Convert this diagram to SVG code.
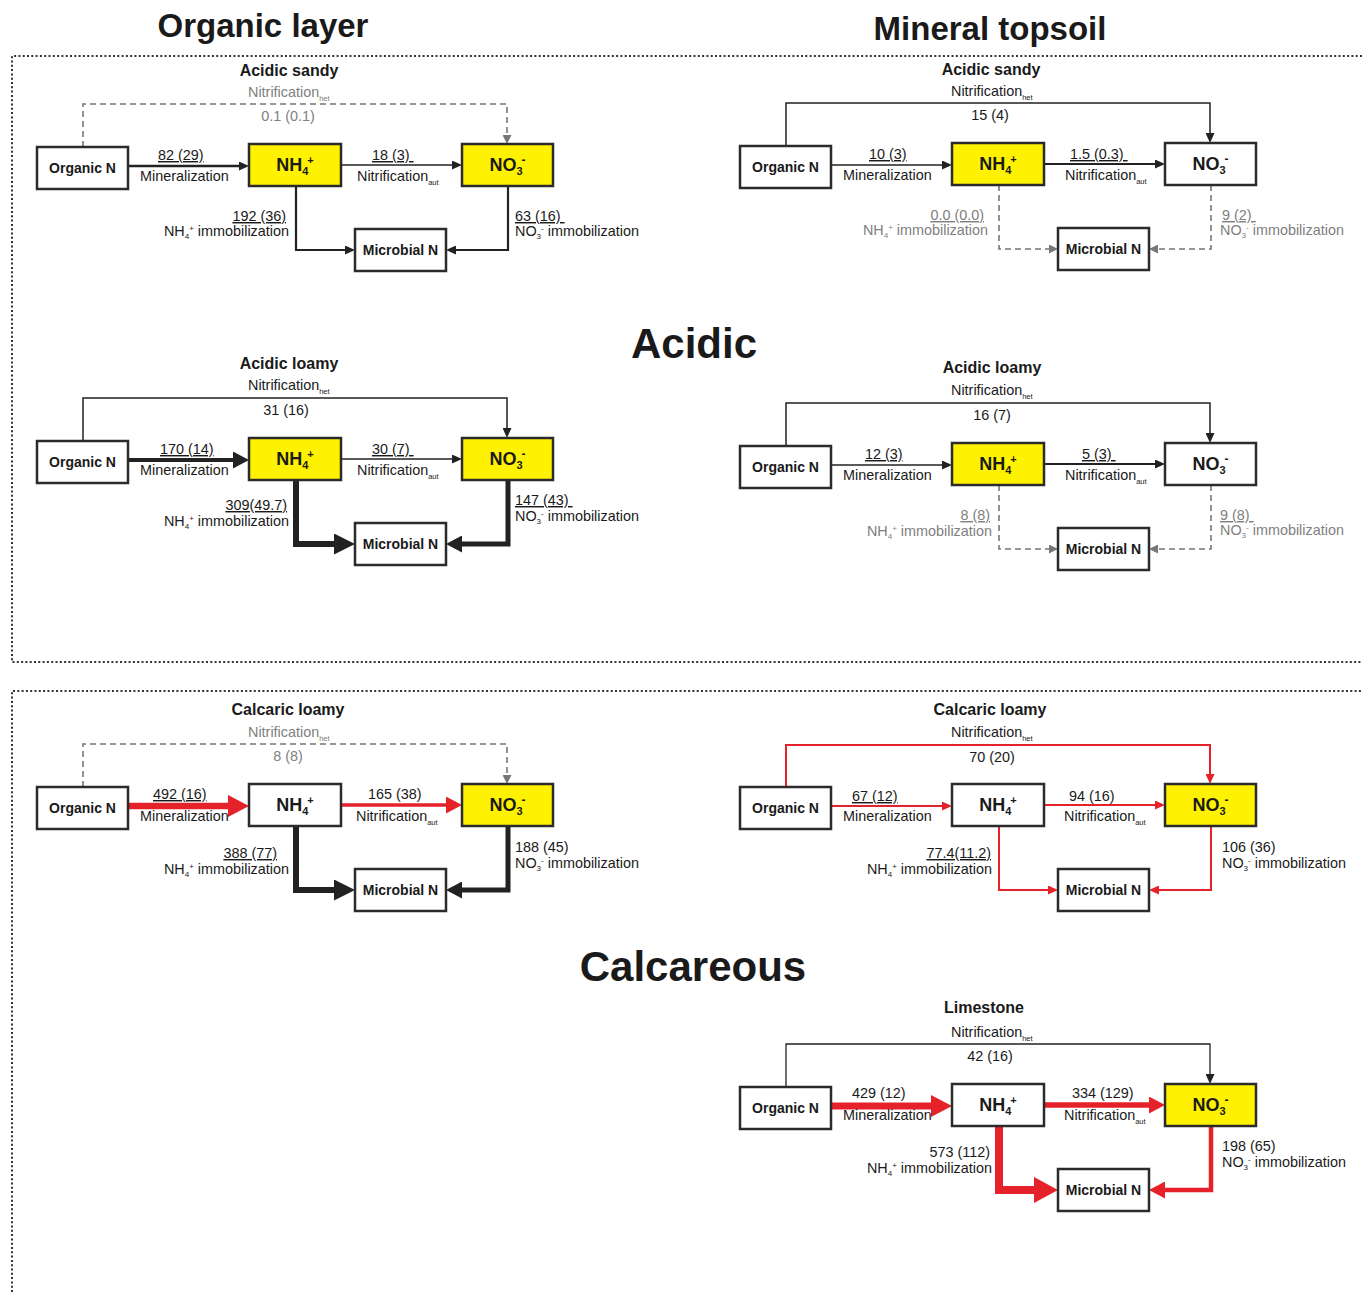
<svg xmlns="http://www.w3.org/2000/svg" width="1362" height="1292" viewBox="0 0 1362 1292">
<style>
text{font-family:"Liberation Sans",Arial,sans-serif;fill:#1a1a1a}
.big{font-size:33px;font-weight:bold}
.huge{font-size:42px;font-weight:bold}
.ttl{font-size:16px;font-weight:bold}
.lbl{font-size:14px;font-weight:bold}
.ion{font-size:18px;font-weight:bold}
.sm{font-size:14.4px}
.gt{fill:#808080}
.u{text-decoration:underline}
.box{fill:#fff;stroke:#2b2b2b;stroke-width:2.5}
.yel{fill:#FFF200}
.dot{fill:none;stroke:#333;stroke-width:2;stroke-dasharray:2 2.3}
.k{fill:none;stroke:#222;stroke-linejoin:miter}
.r{fill:none;stroke:#E5222A;stroke-linejoin:miter}
.g{fill:none;stroke:#777;stroke-width:1.6;stroke-dasharray:6 4}
</style>
<defs>
<marker id="aks" viewBox="0 -4.5 10 9" markerWidth="10" markerHeight="9" refX="0" refY="0" orient="auto" markerUnits="userSpaceOnUse"><path d="M0,-4.5L10,0L0,4.5Z" fill="#222"/></marker>
<marker id="ag" viewBox="0 -4.5 9 9" markerWidth="9" markerHeight="9" refX="0" refY="0" orient="auto" markerUnits="userSpaceOnUse"><path d="M0,-4.5L9,0L0,4.5Z" fill="#777"/></marker>
<marker id="akm" viewBox="0 -8.5 16 17" markerWidth="16" markerHeight="17" refX="0" refY="0" orient="auto" markerUnits="userSpaceOnUse"><path d="M0,-8.5L16,0L0,8.5Z" fill="#222"/></marker>
<marker id="akl" viewBox="0 -10.5 21 21" markerWidth="21" markerHeight="21" refX="0" refY="0" orient="auto" markerUnits="userSpaceOnUse"><path d="M0,-10.5L21,0L0,10.5Z" fill="#222"/></marker>
<marker id="ars" viewBox="0 -4.5 10 9" markerWidth="10" markerHeight="9" refX="0" refY="0" orient="auto" markerUnits="userSpaceOnUse"><path d="M0,-4.5L10,0L0,4.5Z" fill="#E5222A"/></marker>
<marker id="arm" viewBox="0 -8.5 16 17" markerWidth="16" markerHeight="17" refX="0" refY="0" orient="auto" markerUnits="userSpaceOnUse"><path d="M0,-8.5L16,0L0,8.5Z" fill="#E5222A"/></marker>
<marker id="arl" viewBox="0 -11 21 22" markerWidth="21" markerHeight="22" refX="0" refY="0" orient="auto" markerUnits="userSpaceOnUse"><path d="M0,-11L21,0L0,11Z" fill="#E5222A"/></marker>
<marker id="arxl" viewBox="0 -13 24 26" markerWidth="24" markerHeight="26" refX="0" refY="0" orient="auto" markerUnits="userSpaceOnUse"><path d="M0,-13L24,0L0,13Z" fill="#E5222A"/></marker>
</defs>
<rect width="1362" height="1292" fill="#fff"/>

<g id="headers">
<text class="big" x="263" y="37" text-anchor="middle">Organic layer</text>
<text class="big" x="990" y="40" text-anchor="middle">Mineral topsoil</text>
<text class="huge" x="694" y="358" text-anchor="middle">Acidic</text>
<text class="huge" x="693" y="981" text-anchor="middle">Calcareous</text>
</g>
<g id="frames">
<path class="dot" d="M1362,56H12V662H1362"/>
<path class="dot" d="M12,1292V691H1362"/>
</g>

<!-- Panel 1: Organic layer, Acidic sandy -->
<g id="p1" transform="translate(0,0)">
<text class="ttl" x="289" y="76" text-anchor="middle">Acidic sandy</text>
<g id="p1-connectors">
<path class="g" d="M83,147V104H507V135" marker-end="url(#ag)"/>
<path class="k" stroke-width="2.5" d="M128,166H239" marker-end="url(#aks)"/>
<path class="k" stroke-width="1.5" d="M341,165H452" marker-end="url(#aks)"/>
<path class="k" stroke-width="2.2" d="M296,186V250H345" marker-end="url(#aks)"/>
<path class="k" stroke-width="2.2" d="M508,186V250H456" marker-end="url(#aks)"/>
</g>
<g id="p1-labels">
<text class="sm gt" x="248" y="97">Nitrification<tspan font-size="7.5" dy="4">het</tspan></text>
<text class="sm gt" x="288" y="121" text-anchor="middle">0.1 (0.1)</text>
<text class="sm u" x="158" y="160">82 (29)</text>
<text class="sm" x="140" y="181">Mineralization</text>
<text class="sm u" x="372" y="160">18 (3)&#160;</text>
<text class="sm" x="357" y="181">Nitrification<tspan font-size="7.5" dy="4">aut</tspan></text>
<text class="sm u" x="286" y="221" text-anchor="end">192 (36)</text>
<text class="sm" x="289" y="236" text-anchor="end">NH<tspan font-size="8" dy="3">4</tspan><tspan font-size="8" dy="-8">+</tspan><tspan dy="5"> immobilization</tspan></text>
<text class="sm u" x="515" y="221">63 (16)&#160;</text>
<text class="sm" x="515" y="236">NO<tspan font-size="8" dy="3">3</tspan><tspan font-size="8" dy="-8">-</tspan><tspan dy="5"> immobilization</tspan></text>
</g>
<g id="p1-org"><rect class="box" x="37" y="147" width="91" height="42"/><text class="lbl" x="82.5" y="173" text-anchor="middle">Organic N</text></g>
<g id="p1-nh4"><rect class="box yel" x="249" y="144" width="92" height="42"/><text class="ion" x="295" y="171" text-anchor="middle">NH<tspan font-size="11" dy="4">4</tspan><tspan font-size="11" dy="-11" dx="-1">+</tspan></text></g>
<g id="p1-no3"><rect class="box yel" x="462" y="144" width="91" height="42"/><text class="ion" x="507.5" y="171" text-anchor="middle">NO<tspan font-size="11" dy="4">3</tspan><tspan font-size="12" dy="-11" dx="-1">-</tspan></text></g>
<g id="p1-mic"><rect class="box" x="355" y="229" width="91" height="42"/><text class="lbl" x="400.5" y="255" text-anchor="middle">Microbial N</text></g>
</g>

<!-- Panel 2: Mineral topsoil, Acidic sandy -->
<g id="p2" transform="translate(703,-1)">
<text class="ttl" x="288" y="76" text-anchor="middle">Acidic sandy</text>
<g id="p2-connectors">
<path class="k" stroke-width="1.5" d="M83,147V104H507V134" marker-end="url(#aks)"/>
<path class="k" stroke-width="1.5" d="M128,166H239" marker-end="url(#aks)"/>
<path class="k" stroke-width="1.8" d="M341,165H452" marker-end="url(#aks)"/>
<path class="g" d="M296,186V250H346" marker-end="url(#ag)"/>
<path class="g" d="M508,186V250H455" marker-end="url(#ag)"/>
</g>
<g id="p2-labels">
<text class="sm" x="248" y="97">Nitrification<tspan font-size="7.5" dy="4">het</tspan></text>
<text class="sm" x="287" y="121" text-anchor="middle">15 (4)</text>
<text class="sm u" x="166" y="160">10 (3)</text>
<text class="sm" x="140" y="181">Mineralization</text>
<text class="sm u" x="367" y="160">1.5 (0.3)&#160;</text>
<text class="sm" x="362" y="181">Nitrification<tspan font-size="7.5" dy="4">aut</tspan></text>
<text class="sm u gt" x="281" y="221" text-anchor="end">0.0 (0.0)</text>
<text class="sm gt" x="285" y="236" text-anchor="end">NH<tspan font-size="8" dy="3">4</tspan><tspan font-size="8" dy="-8">+</tspan><tspan dy="5"> immobilization</tspan></text>
<text class="sm u gt" x="519" y="221">9 (2)&#160;</text>
<text class="sm gt" x="517" y="236">NO<tspan font-size="8" dy="3">3</tspan><tspan font-size="8" dy="-8">-</tspan><tspan dy="5"> immobilization</tspan></text>
</g>
<g id="p2-org"><rect class="box" x="37" y="147" width="91" height="42"/><text class="lbl" x="82.5" y="173" text-anchor="middle">Organic N</text></g>
<g id="p2-nh4"><rect class="box yel" x="249" y="144" width="92" height="42"/><text class="ion" x="295" y="171" text-anchor="middle">NH<tspan font-size="11" dy="4">4</tspan><tspan font-size="11" dy="-11" dx="-1">+</tspan></text></g>
<g id="p2-no3"><rect class="box" x="462" y="144" width="91" height="42"/><text class="ion" x="507.5" y="171" text-anchor="middle">NO<tspan font-size="11" dy="4">3</tspan><tspan font-size="12" dy="-11" dx="-1">-</tspan></text></g>
<g id="p2-mic"><rect class="box" x="355" y="229" width="91" height="42"/><text class="lbl" x="400.5" y="255" text-anchor="middle">Microbial N</text></g>
</g>

<!-- Panel 3: Organic layer, Acidic loamy -->
<g id="p3" transform="translate(0,294)">
<text class="ttl" x="289" y="75" text-anchor="middle">Acidic loamy</text>
<g id="p3-connectors">
<path class="k" stroke-width="1.5" d="M83,147V104H507V134" marker-end="url(#aks)"/>
<path class="k" stroke-width="4" d="M128,166H233" marker-end="url(#akm)"/>
<path class="k" stroke-width="1.3" d="M341,165H452" marker-end="url(#aks)"/>
<path class="k" stroke-width="6" d="M296,186V250H334" marker-end="url(#akl)"/>
<path class="k" stroke-width="5" d="M508,186V250H462" marker-end="url(#akm)"/>
</g>
<g id="p3-labels">
<text class="sm" x="248" y="96">Nitrification<tspan font-size="7.5" dy="4">het</tspan></text>
<text class="sm" x="286" y="121" text-anchor="middle">31 (16)</text>
<text class="sm u" x="160" y="160">170 (14)</text>
<text class="sm" x="140" y="181">Mineralization</text>
<text class="sm u" x="372" y="160">30 (7)&#160;</text>
<text class="sm" x="357" y="181">Nitrification<tspan font-size="7.5" dy="4">aut</tspan></text>
<text class="sm u" x="287" y="216" text-anchor="end">309(49.7)</text>
<text class="sm" x="289" y="232" text-anchor="end">NH<tspan font-size="8" dy="3">4</tspan><tspan font-size="8" dy="-8">+</tspan><tspan dy="5"> immobilization</tspan></text>
<text class="sm u" x="515" y="211">147 (43)&#160;</text>
<text class="sm" x="515" y="227">NO<tspan font-size="8" dy="3">3</tspan><tspan font-size="8" dy="-8">-</tspan><tspan dy="5"> immobilization</tspan></text>
</g>
<g id="p3-org"><rect class="box" x="37" y="147" width="91" height="42"/><text class="lbl" x="82.5" y="173" text-anchor="middle">Organic N</text></g>
<g id="p3-nh4"><rect class="box yel" x="249" y="144" width="92" height="42"/><text class="ion" x="295" y="171" text-anchor="middle">NH<tspan font-size="11" dy="4">4</tspan><tspan font-size="11" dy="-11" dx="-1">+</tspan></text></g>
<g id="p3-no3"><rect class="box yel" x="462" y="144" width="91" height="42"/><text class="ion" x="507.5" y="171" text-anchor="middle">NO<tspan font-size="11" dy="4">3</tspan><tspan font-size="12" dy="-11" dx="-1">-</tspan></text></g>
<g id="p3-mic"><rect class="box" x="355" y="229" width="91" height="42"/><text class="lbl" x="400.5" y="255" text-anchor="middle">Microbial N</text></g>
</g>

<!-- Panel 4: Mineral topsoil, Acidic loamy -->
<g id="p4" transform="translate(703,299)">
<text class="ttl" x="289" y="74" text-anchor="middle">Acidic loamy</text>
<g id="p4-connectors">
<path class="k" stroke-width="1.5" d="M83,147V104H507V134" marker-end="url(#aks)"/>
<path class="k" stroke-width="1.3" d="M128,166H239" marker-end="url(#aks)"/>
<path class="k" stroke-width="2" d="M341,165H452" marker-end="url(#aks)"/>
<path class="g" d="M296,186V250H346" marker-end="url(#ag)"/>
<path class="g" d="M508,186V250H455" marker-end="url(#ag)"/>
</g>
<g id="p4-labels">
<text class="sm" x="248" y="96">Nitrification<tspan font-size="7.5" dy="4">het</tspan></text>
<text class="sm" x="289" y="121" text-anchor="middle">16 (7)</text>
<text class="sm u" x="162" y="160">12 (3)</text>
<text class="sm" x="140" y="181">Mineralization</text>
<text class="sm u" x="379" y="160">5 (3)&#160;</text>
<text class="sm" x="362" y="181">Nitrification<tspan font-size="7.5" dy="4">aut</tspan></text>
<text class="sm u gt" x="287" y="221" text-anchor="end">8 (8)</text>
<text class="sm gt" x="289" y="237" text-anchor="end">NH<tspan font-size="8" dy="3">4</tspan><tspan font-size="8" dy="-8">+</tspan><tspan dy="5"> immobilization</tspan></text>
<text class="sm u gt" x="517" y="221">9 (8)&#160;</text>
<text class="sm gt" x="517" y="236">NO<tspan font-size="8" dy="3">3</tspan><tspan font-size="8" dy="-8">-</tspan><tspan dy="5"> immobilization</tspan></text>
</g>
<g id="p4-org"><rect class="box" x="37" y="147" width="91" height="42"/><text class="lbl" x="82.5" y="173" text-anchor="middle">Organic N</text></g>
<g id="p4-nh4"><rect class="box yel" x="249" y="144" width="92" height="42"/><text class="ion" x="295" y="171" text-anchor="middle">NH<tspan font-size="11" dy="4">4</tspan><tspan font-size="11" dy="-11" dx="-1">+</tspan></text></g>
<g id="p4-no3"><rect class="box" x="462" y="144" width="91" height="42"/><text class="ion" x="507.5" y="171" text-anchor="middle">NO<tspan font-size="11" dy="4">3</tspan><tspan font-size="12" dy="-11" dx="-1">-</tspan></text></g>
<g id="p4-mic"><rect class="box" x="355" y="229" width="91" height="42"/><text class="lbl" x="400.5" y="255" text-anchor="middle">Microbial N</text></g>
</g>

<!-- Panel 5: Organic layer, Calcaric loamy -->
<g id="p5" transform="translate(0,640)">
<text class="ttl" x="288" y="75" text-anchor="middle">Calcaric loamy</text>
<g id="p5-connectors">
<path class="g" d="M83,147V104H507V135" marker-end="url(#ag)"/>
<path class="r" stroke-width="6.5" d="M128,166H228" marker-end="url(#arl)"/>
<path class="r" stroke-width="3.5" d="M341,165H446" marker-end="url(#arm)"/>
<path class="k" stroke-width="6" d="M296,186V250H334" marker-end="url(#akl)"/>
<path class="k" stroke-width="5" d="M508,186V250H462" marker-end="url(#akm)"/>
</g>
<g id="p5-labels">
<text class="sm gt" x="248" y="97">Nitrification<tspan font-size="7.5" dy="4">het</tspan></text>
<text class="sm gt" x="288" y="121" text-anchor="middle">8 (8)</text>
<text class="sm u" x="153" y="159">492 (16)</text>
<text class="sm" x="140" y="181">Mineralization</text>
<text class="sm" x="368" y="159">165 (38)</text>
<text class="sm" x="356" y="181">Nitrification<tspan font-size="7.5" dy="4">aut</tspan></text>
<text class="sm u" x="277" y="218" text-anchor="end">388 (77)</text>
<text class="sm" x="289" y="234" text-anchor="end">NH<tspan font-size="8" dy="3">4</tspan><tspan font-size="8" dy="-8">+</tspan><tspan dy="5"> immobilization</tspan></text>
<text class="sm" x="515" y="212">188 (45)</text>
<text class="sm" x="515" y="228">NO<tspan font-size="8" dy="3">3</tspan><tspan font-size="8" dy="-8">-</tspan><tspan dy="5"> immobilization</tspan></text>
</g>
<g id="p5-org"><rect class="box" x="37" y="147" width="91" height="42"/><text class="lbl" x="82.5" y="173" text-anchor="middle">Organic N</text></g>
<g id="p5-nh4"><rect class="box" x="249" y="144" width="92" height="42"/><text class="ion" x="295" y="171" text-anchor="middle">NH<tspan font-size="11" dy="4">4</tspan><tspan font-size="11" dy="-11" dx="-1">+</tspan></text></g>
<g id="p5-no3"><rect class="box yel" x="462" y="144" width="91" height="42"/><text class="ion" x="507.5" y="171" text-anchor="middle">NO<tspan font-size="11" dy="4">3</tspan><tspan font-size="12" dy="-11" dx="-1">-</tspan></text></g>
<g id="p5-mic"><rect class="box" x="355" y="229" width="91" height="42"/><text class="lbl" x="400.5" y="255" text-anchor="middle">Microbial N</text></g>
</g>

<!-- Panel 6: Mineral topsoil, Calcaric loamy -->
<g id="p6" transform="translate(703,640)">
<text class="ttl" x="287" y="75" text-anchor="middle">Calcaric loamy</text>
<g id="p6-connectors">
<path class="r" stroke-width="2" d="M83,147V105H507V134" marker-end="url(#ars)"/>
<path class="r" stroke-width="2" d="M128,166H239" marker-end="url(#ars)"/>
<path class="r" stroke-width="2" d="M341,165H452" marker-end="url(#ars)"/>
<path class="r" stroke-width="2" d="M296,186V250H345" marker-end="url(#ars)"/>
<path class="r" stroke-width="2" d="M508,186V250H456" marker-end="url(#ars)"/>
</g>
<g id="p6-labels">
<text class="sm" x="248" y="97">Nitrification<tspan font-size="7.5" dy="4">het</tspan></text>
<text class="sm" x="289" y="122" text-anchor="middle">70 (20)</text>
<text class="sm u" x="149" y="161">67 (12)</text>
<text class="sm" x="140" y="181">Mineralization</text>
<text class="sm" x="366" y="161">94 (16)</text>
<text class="sm" x="361" y="181">Nitrification<tspan font-size="7.5" dy="4">aut</tspan></text>
<text class="sm u" x="288" y="218" text-anchor="end">77.4(11.2)</text>
<text class="sm" x="289" y="234" text-anchor="end">NH<tspan font-size="8" dy="3">4</tspan><tspan font-size="8" dy="-8">+</tspan><tspan dy="5"> immobilization</tspan></text>
<text class="sm" x="519" y="212">106 (36)</text>
<text class="sm" x="519" y="228">NO<tspan font-size="8" dy="3">3</tspan><tspan font-size="8" dy="-8">-</tspan><tspan dy="5"> immobilization</tspan></text>
</g>
<g id="p6-org"><rect class="box" x="37" y="147" width="91" height="42"/><text class="lbl" x="82.5" y="173" text-anchor="middle">Organic N</text></g>
<g id="p6-nh4"><rect class="box" x="249" y="144" width="92" height="42"/><text class="ion" x="295" y="171" text-anchor="middle">NH<tspan font-size="11" dy="4">4</tspan><tspan font-size="11" dy="-11" dx="-1">+</tspan></text></g>
<g id="p6-no3"><rect class="box yel" x="462" y="144" width="91" height="42"/><text class="ion" x="507.5" y="171" text-anchor="middle">NO<tspan font-size="11" dy="4">3</tspan><tspan font-size="12" dy="-11" dx="-1">-</tspan></text></g>
<g id="p6-mic"><rect class="box" x="355" y="229" width="91" height="42"/><text class="lbl" x="400.5" y="255" text-anchor="middle">Microbial N</text></g>
</g>

<!-- Panel 7: Mineral topsoil, Limestone -->
<g id="p7" transform="translate(703,940)">
<text class="ttl" x="281" y="73" text-anchor="middle">Limestone</text>
<g id="p7-connectors">
<path class="k" stroke-width="1.3" d="M83,147V104H507V134" marker-end="url(#aks)"/>
<path class="r" stroke-width="7" d="M128,166H228" marker-end="url(#arl)"/>
<path class="r" stroke-width="5.5" d="M341,165H446" marker-end="url(#arm)"/>
<path class="r" stroke-width="8" d="M296,186V250H331" marker-end="url(#arxl)"/>
<path class="r" stroke-width="4.5" d="M508,186V250H462" marker-end="url(#arm)"/>
</g>
<g id="p7-labels">
<text class="sm" x="248" y="97">Nitrification<tspan font-size="7.5" dy="4">het</tspan></text>
<text class="sm" x="287" y="121" text-anchor="middle">42 (16)</text>
<text class="sm" x="149" y="158">429 (12)</text>
<text class="sm" x="140" y="180">Mineralization</text>
<text class="sm" x="369" y="158">334 (129)</text>
<text class="sm" x="361" y="180">Nitrification<tspan font-size="7.5" dy="4">aut</tspan></text>
<text class="sm" x="287" y="217" text-anchor="end">573 (112)</text>
<text class="sm" x="289" y="233" text-anchor="end">NH<tspan font-size="8" dy="3">4</tspan><tspan font-size="8" dy="-8">+</tspan><tspan dy="5"> immobilization</tspan></text>
<text class="sm" x="519" y="211">198 (65)</text>
<text class="sm" x="519" y="227">NO<tspan font-size="8" dy="3">3</tspan><tspan font-size="8" dy="-8">-</tspan><tspan dy="5"> immobilization</tspan></text>
</g>
<g id="p7-org"><rect class="box" x="37" y="147" width="91" height="42"/><text class="lbl" x="82.5" y="173" text-anchor="middle">Organic N</text></g>
<g id="p7-nh4"><rect class="box" x="249" y="144" width="92" height="42"/><text class="ion" x="295" y="171" text-anchor="middle">NH<tspan font-size="11" dy="4">4</tspan><tspan font-size="11" dy="-11" dx="-1">+</tspan></text></g>
<g id="p7-no3"><rect class="box yel" x="462" y="144" width="91" height="42"/><text class="ion" x="507.5" y="171" text-anchor="middle">NO<tspan font-size="11" dy="4">3</tspan><tspan font-size="12" dy="-11" dx="-1">-</tspan></text></g>
<g id="p7-mic"><rect class="box" x="355" y="229" width="91" height="42"/><text class="lbl" x="400.5" y="255" text-anchor="middle">Microbial N</text></g>
</g>
</svg>
